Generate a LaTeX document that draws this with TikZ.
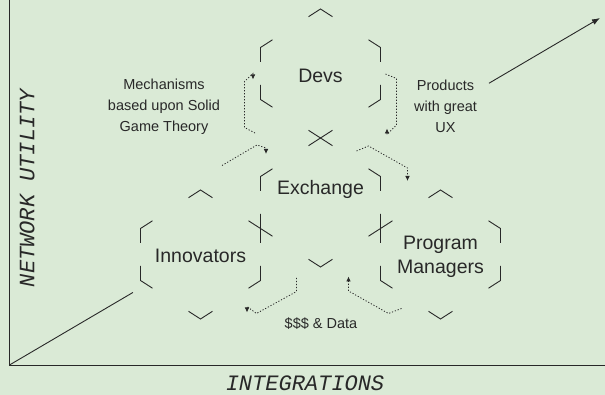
\documentclass[tikz,border=0pt]{standalone}
\usepackage{fontspec}
\setmainfont{Liberation Sans}
\newfontfamily\axisfont{Liberation Mono}
\usetikzlibrary{arrows.meta,calc}
\definecolor{bg}{RGB}{218,234,214}
\definecolor{ink}{RGB}{40,40,40}

\begin{document}
\begin{tikzpicture}[x=1pt,y=-1pt,line width=0.9pt,>={Latex[length=5pt,width=4.6pt]},
    hextext/.style={text=ink,font=\fontsize{19.5}{24}\selectfont,align=center,anchor=base},
    sidenote/.style={text=ink,font=\fontsize{14.5}{21}\selectfont,align=center,anchor=base},
    axislabel/.style={text=ink,inner sep=0pt,font=\axisfont\itshape\fontsize{22}{24}\selectfont},
    flow/.style={draw=ink,line width=0.8pt,dash pattern=on 1.2pt off 1.8pt,->}]
  \fill[bg] (0,0) rectangle (605,395);
  \useasboundingbox (0,0) rectangle (605,395);

  \coordinate (O) at (9.5,365);
  \coordinate (T) at (600,18);
  \coordinate (devs) at (320.5,73.5);
  \coordinate (exch) at (320.5,202.5);
  \coordinate (innov) at (200.5,254.5);
  \coordinate (progm) at (440.5,254.5);

  \draw[ink,line width=1pt] (9.5,0) -- (O) -- (605,365);
  \draw[ink] (O) -- ($(O)!0.209!(T)$);
  \draw[ink,-{Latex[length=8pt,width=6pt]}] ($(O)!0.812!(T)$) -- (T);

  \foreach \h in {devs,exch,innov,progm}{
    \begin{scope}[shift={(\h)},draw=ink]
      \draw (-12,-56.8) -- (0,-64.5) -- (12,-56.8);
      \draw (-12,56.8) -- (0,64.5) -- (12,56.8);
      \draw (-48,-33.7) -- (-60,-26) -- (-60,-11.5);
      \draw (48,-33.7) -- (60,-26) -- (60,-11.5);
      \draw (-60,11.5) -- (-60,26) -- (-48,33.7);
      \draw (60,11.5) -- (60,26) -- (48,33.7);
    \end{scope}
  }

  \node[hextext] (devsT) at (320.5,82.7) {Devs};
  \node[hextext] (exchT) at (320.5,195) {Exchange};
  \node[hextext] (innovT) at (200.5,263) {Innovators};
  \node[hextext] (progmT) at (440.5,273.3) {Program\\Managers};
  \node[sidenote] (mech) at (164,131.7) {Mechanisms\\based upon Solid\\Game Theory};
  \node[sidenote] (prod) at (445.5,132.7) {Products\\with great\\UX};
  \node[sidenote] (money) at (321,329) {\$\$\$ \& Data};

  \draw[flow] (255,133) -- (244.5,127.5) -- (244.5,81.5) -- (253,73.5) -- (253,79.5);
  \draw[flow] (222,165.5) -- (257,145) -- (266,148) -- (266,154);
  \draw[flow] (385.5,74) -- (396.5,78.5) -- (396.5,125) -- (387,134.5) -- (387,128.5);
  \draw[flow] (356.5,151) -- (368.5,146) -- (407.5,168) -- (407.5,181);
  \draw[flow] (296.5,278) -- (296.5,291.5) -- (256.5,313.5) -- (247,306.5) -- (247,312.5);
  \draw[flow] (401.5,308.5) -- (388.5,313.5) -- (348.5,291) -- (348.5,276.5);

  \node[axislabel,anchor=base] (xlab) at (305,390.5) {INTEGRATIONS};
  \node[axislabel,rotate=90] (ylab) at (27,188) {NETWORK UTILITY};
\end{tikzpicture}
\end{document}
